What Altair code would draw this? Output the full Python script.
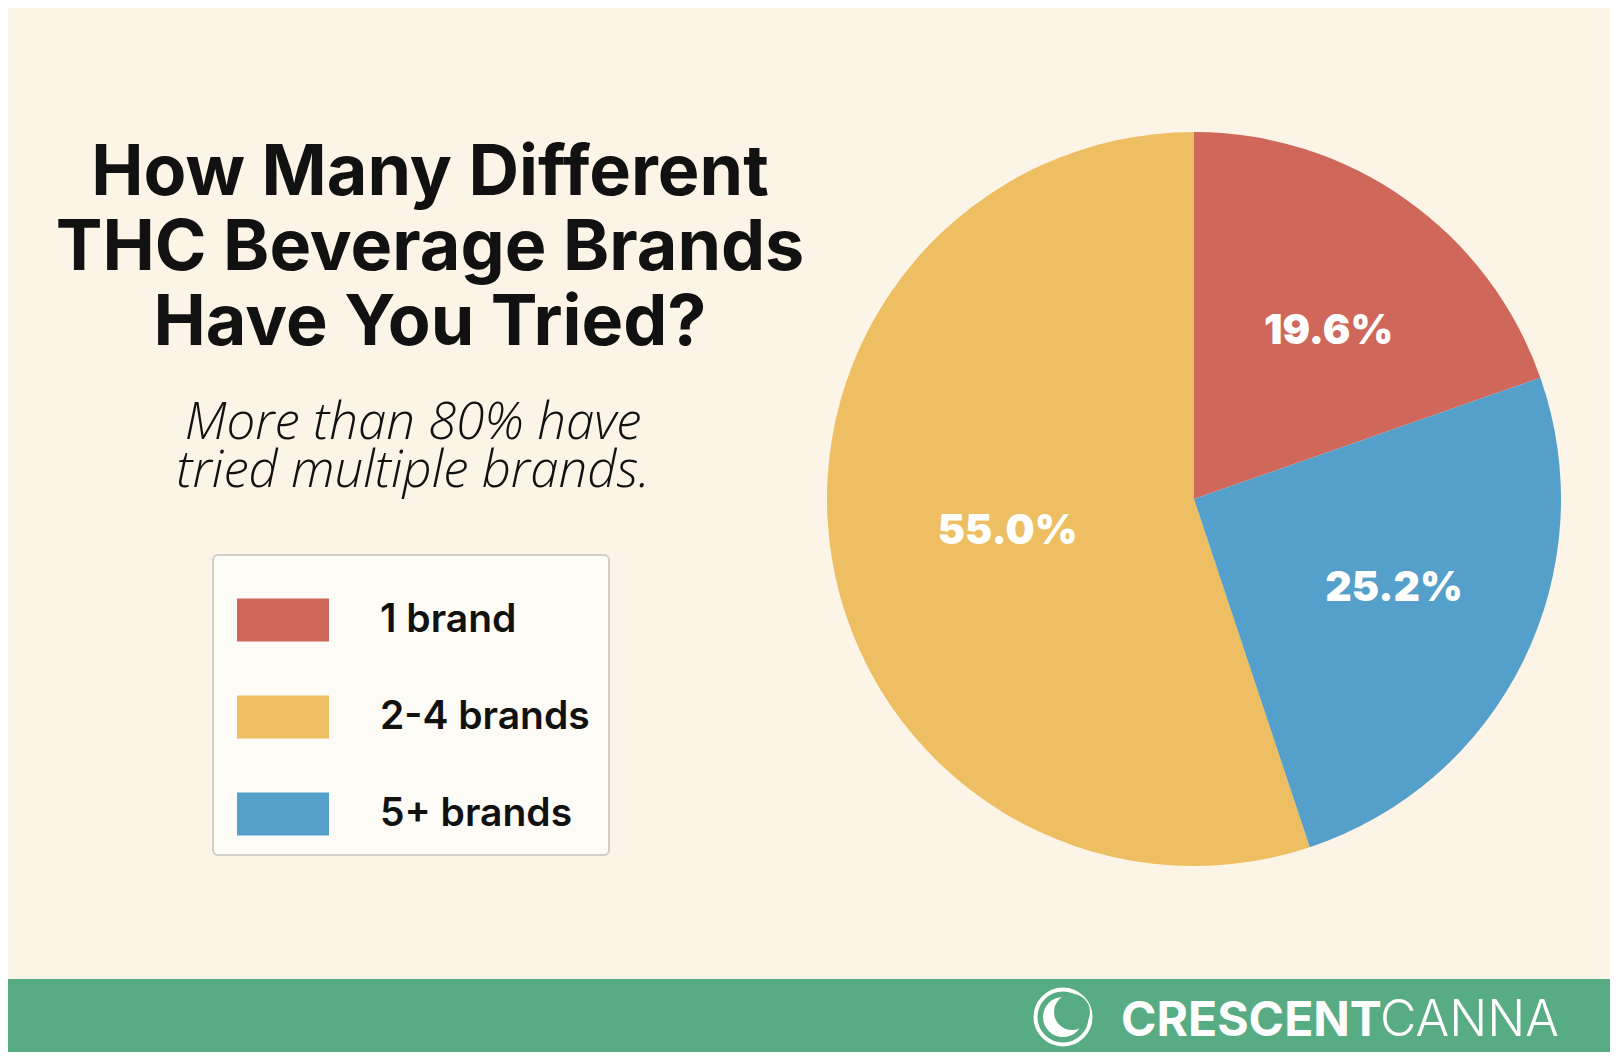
import altair as alt
import pandas as pd

# ---- data ----
categories = ["1 brand", "2-4 brands", "5+ brands"]
shares = [19.6, 55.0, 25.2]
share_labels = ["19.6%", "55.0%", "25.2%"]
colors = ["#CF675A", "#EDBF62", "#559FCB"]

title_lines = ["How Many Different", "THC Beverage Brands", "Have You Tried?"]
subtitle_lines = ["More than 80% have", "tried multiple brands."]
brand_bold = "CRESCENT"
brand_light = "CANNA"

# ---- styling ----
W, H = 1602, 1044
BG = "#FCF5E7"
GREEN = "#58AC83"
INK = "#111111"
FONT = "Inter"

df = pd.DataFrame({"category": categories, "share": shares, "label": share_labels})
one = pd.DataFrame({"k": [0]})

CX, CY, R = 1186, 491, 367

footer = alt.Chart(one).mark_rect(color=GREEN).encode(
    x=alt.value(0), x2=alt.value(W), y=alt.value(971), y2=alt.value(H)
)

title = alt.Chart(one).mark_text(
    font=FONT, fontSize=70, fontWeight="bold", align="center",
    baseline="alphabetic", lineHeight=75, color=INK
).encode(x=alt.value(422), y=alt.value(187), text=alt.value(title_lines))

subtitle = alt.Chart(one).mark_text(
    font="Open Sans", fontSize=51, fontStyle="italic", fontWeight=300, align="center",
    baseline="alphabetic", lineHeight=48, color=INK
).encode(x=alt.value(405), y=alt.value(431), text=alt.value(subtitle_lines))

base = alt.Chart(df)
pie = base.mark_arc(outerRadius=R).encode(
    theta=alt.Theta("share:Q", stack=True),
    order=alt.Order("share:Q", sort="ascending"),
    color=alt.Color(
        "category:N",
        scale=alt.Scale(domain=categories, range=colors),
        legend=alt.Legend(
            title=None, orient="none", legendX=205, legendY=547,
            direction="vertical",
            symbolType="M-1,-0.467H1V0.467H-1Z", symbolSize=8464,
            symbolStrokeWidth=0, symbolOpacity=1, symbolOffset=5,
            labelFont=FONT, labelFontSize=39, labelFontWeight=600,
            labelColor=INK, labelOffset=51, labelLimit=400,
            rowPadding=29, padding=19,
            fillColor="#FDFBF6", strokeColor="#D0CFC8",
            cornerRadius=5,
        ),
    ),
    x=alt.value(CX), y=alt.value(CY),
)

pie_text = base.mark_text(
    radius=205, dx=16, font=FONT, fontSize=41, fontWeight=900, color="white",
    align="center", baseline="middle"
).encode(
    theta=alt.Theta("share:Q", stack=True),
    order=alt.Order("share:Q", sort="ascending"),
    text="label:N",
    x=alt.value(CX), y=alt.value(CY),
)

LX, LY = 1055, 1009
ring = alt.Chart(one).mark_point(
    shape="circle", filled=False, stroke="white", strokeWidth=4, opacity=1, size=3025
).encode(x=alt.value(LX), y=alt.value(LY))
moon = alt.Chart(one).mark_point(
    shape="circle", filled=True, color="white", opacity=1, size=1600
).encode(x=alt.value(LX), y=alt.value(LY))
moon_cut = alt.Chart(one).mark_point(
    shape="circle", filled=True, color=GREEN, opacity=1, size=1296
).encode(x=alt.value(LX + 9), y=alt.value(LY - 5))

logo_bold = alt.Chart(one).mark_text(
    font=FONT, fontSize=48, fontWeight="bold", align="left",
    baseline="alphabetic", color="white"
).encode(x=alt.value(1113), y=alt.value(1028), text=alt.value(brand_bold))
logo_light = alt.Chart(one).mark_text(
    font=FONT, fontSize=50, fontWeight=300, align="left",
    baseline="alphabetic", color="white"
).encode(x=alt.value(1372), y=alt.value(1028), text=alt.value(brand_light))

chart = alt.layer(
    footer, title, subtitle, pie, pie_text, ring, moon, moon_cut, logo_bold, logo_light
).properties(
    width=W, height=H, background=BG, padding=0,
    autosize=alt.AutoSizeParams(type="none"),
).configure_view(strokeWidth=0).configure_legend(strokeWidth=2)

chart.save("out.html", embed_options={"renderer": "svg", "actions": False})
